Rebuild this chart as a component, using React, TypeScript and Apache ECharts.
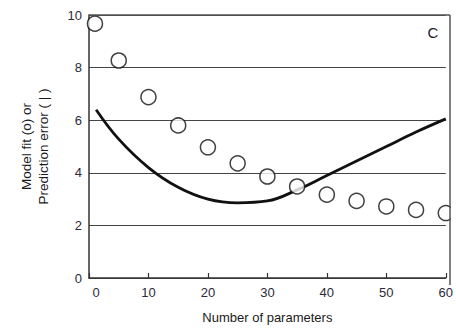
import React, { useEffect, useRef } from "react";
import * as echarts from "echarts";

const fitX = [1, 5, 10, 15, 20, 25, 30, 35, 40, 45, 50, 55, 60];
const fitY = [9.67, 8.27, 6.88, 5.8, 4.97, 4.36, 3.86, 3.48, 3.17, 2.93, 2.72, 2.59, 2.47];
const errX = [1.2, 5, 10, 15, 20, 25, 30, 35, 40, 45, 50, 55, 60];
const errY = [6.4, 5.28, 4.2, 3.45, 3.0, 2.86, 2.93, 3.35, 3.9, 4.45, 5.0, 5.55, 6.05];
const xTicks = [0, 10, 20, 30, 40, 50, 60];
const yTicks = [0, 2, 4, 6, 8, 10];

export default function App() {
  const ref = useRef<HTMLDivElement>(null);
  useEffect(() => {
    const chart = echarts.init(ref.current!, null, { renderer: "svg" });
    const font = "Liberation Sans, Arial, sans-serif";
    chart.setOption({
      animation: false,
      grid: { left: 89, top: 15, right: 6, bottom: 44, show: false },
      xAxis: {
        type: "value",
        min: 0,
        max: 60,
        interval: 10,
        name: "Number of parameters",
        nameLocation: "middle",
        nameGap: 33,
        nameTextStyle: { color: "#1a1a1a", fontSize: 13, fontFamily: font },
        axisLine: { show: true, onZero: false, lineStyle: { color: "#333", width: 1.5 } },
        axisTick: { show: true, inside: true, length: 5, lineStyle: { color: "#333", width: 1.2 } },
        axisLabel: {
          color: "#2a2a3a",
          fontSize: 13,
          fontFamily: font,
          margin: 8,
          formatter: (v: number) =>
            v === 0 ? "{z|0}" : xTicks.includes(v) ? String(v) : "",
          rich: {
            z: { color: "#2a2a3a", fontSize: 13, fontFamily: font, padding: [0, 0, 0, 14] },
          },
        },
        splitLine: { show: false },
      },
      yAxis: {
        type: "value",
        min: 0,
        max: 10,
        interval: 2,
        name: "Model fit (o) or\nPrediction error ( | )",
        nameLocation: "middle",
        nameRotate: 90,
        nameGap: 37,
        nameTextStyle: { color: "#1a1a1a", fontSize: 13.5, fontFamily: font, lineHeight: 17 },
        axisLine: { show: true, lineStyle: { color: "#333", width: 1.5 } },
        axisTick: { show: false },
        axisLabel: {
          color: "#2a2a3a",
          fontSize: 13,
          fontFamily: font,
          margin: 7,
          formatter: (v: number) => (yTicks.includes(v) ? String(v) : ""),
        },
        splitLine: { show: true, lineStyle: { color: "#444", width: 1.2 } },
      },
      series: [
        {
          type: "line",
          data: errX.map((x, i) => [x, errY[i]]),
          smooth: 0.4,
          showSymbol: false,
          symbol: "none",
          lineStyle: { color: "#111", width: 2.8 },
          z: 3,
        },
        {
          type: "scatter",
          data: fitX.map((x, i) => [x, fitY[i]]),
          symbol: "circle",
          symbolSize: 15,
          clip: false,
          itemStyle: { color: "#fff", borderColor: "#111", borderWidth: 1.5 },
          z: 4,
        },
      ],
      graphic: [
        {
          type: "rect",
          shape: { x: 451, y: 200, width: 10, height: 40 },
          style: { fill: "#fff" },
          z: 100,
        },
        {
          type: "line",
          shape: { x1: 89, y1: 15, x2: 450, y2: 15 },
          style: { stroke: "#555", lineWidth: 1.5 },
          z: 50,
        },
        {
          type: "line",
          shape: { x1: 450, y1: 15, x2: 450, y2: 285 },
          style: { stroke: "#555", lineWidth: 1.5 },
          z: 101,
        },
        {
          type: "text",
          x: 433,
          y: 32,
          style: {
            text: "C",
            fill: "#1a1a2a",
            font: `15px ${font}`,
            textAlign: "center",
            textVerticalAlign: "middle",
          },
          z: 50,
        },
      ],
    });
    return () => chart.dispose();
  }, []);
  return <div ref={ref} style={{ width: 456, height: 329, position: "absolute", left: 0, top: 0, background: "#fff" }} />;
}
